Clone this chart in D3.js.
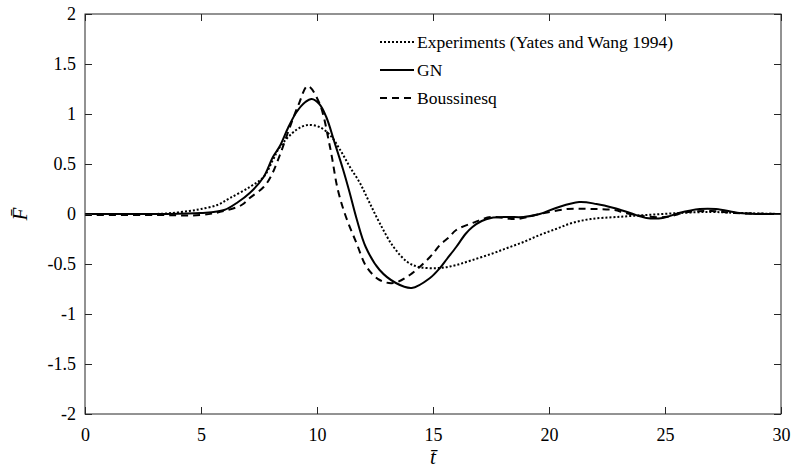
<!DOCTYPE html>
<html>
<head>
<meta charset="utf-8">
<script src="https://cdn.jsdelivr.net/npm/d3@7"></script>
<style>
  body { margin: 0; background: #fff; }
  svg { display: block; }
  text { font-family: "Liberation Serif", "Times New Roman", serif; fill: #000; }
</style>
</head>
<body>
<svg id="chart" width="793" height="472"></svg>
<script>
// Measured force, Yates and Wang (1994)
const expT = [0, 2, 3, 3.75, 4.5, 5, 5.7, 6.25, 7.1, 7.7, 8.1, 8.4, 9.1, 9.6, 10.1, 10.56, 11.0, 11.42, 11.85, 12.25, 12.7, 13.3, 13.9, 14.4, 15.3, 16.0, 16.7, 17.5, 18.2, 18.9, 19.6, 20.3, 21.0, 21.8, 22.9, 24.2, 25.6, 27.0, 28.2, 30];
const expF = [0, 0, 0, 0.01, 0.03, 0.05, 0.09, 0.16, 0.27, 0.37, 0.54, 0.67, 0.84, 0.89, 0.87, 0.79, 0.64, 0.47, 0.31, 0.12, -0.09, -0.33, -0.48, -0.53, -0.54, -0.51, -0.46, -0.40, -0.34, -0.28, -0.21, -0.15, -0.09, -0.05, -0.03, -0.01, 0.01, 0.02, 0.01, 0];

// Green-Naghdi model
const gnT = [0, 3, 5, 6, 6.6, 7.1, 7.7, 8.1, 8.4, 8.75, 9.12, 9.5, 9.77, 10.1, 10.4, 10.75, 11.13, 11.4, 11.71, 12.1, 12.7, 13.4, 14.08, 14.87, 15.3, 15.6, 16.0, 16.4, 16.7, 17.1, 17.5, 18.2, 18.9, 19.6, 20.3, 21.3, 22.05, 22.8, 23.5, 24.2, 24.9, 25.6, 26.5, 27.2, 28.2, 29, 30];
const gnF = [0, 0, 0.01, 0.04, 0.12, 0.21, 0.37, 0.57, 0.68, 0.86, 1.02, 1.12, 1.15, 1.10, 0.97, 0.72, 0.44, 0.22, -0.05, -0.33, -0.56, -0.69, -0.74, -0.64, -0.54, -0.45, -0.33, -0.20, -0.13, -0.07, -0.04, -0.03, -0.03, 0.0, 0.06, 0.12, 0.10, 0.06, 0.01, -0.04, -0.04, 0.01, 0.05, 0.05, 0.01, 0, 0];

// Boussinesq model
const bqT = [0, 3, 5, 6, 6.75, 7.1, 7.7, 8.0, 8.4, 8.8, 9.2, 9.6, 10.1, 10.56, 10.9, 11.25, 11.7, 12.14, 12.7, 13.3, 14.0, 14.87, 15.3, 15.7, 16.0, 16.7, 17.5, 18.6, 19.6, 20.8, 21.8, 22.8, 23.3, 24, 25, 26, 27, 28, 30];
const bqF = [-0.01, -0.01, -0.01, 0.03, 0.09, 0.16, 0.27, 0.37, 0.59, 0.85, 1.09, 1.28, 1.11, 0.67, 0.24, -0.03, -0.29, -0.53, -0.66, -0.69, -0.61, -0.43, -0.31, -0.23, -0.16, -0.09, -0.03, -0.05, 0.0, 0.05, 0.05, 0.04, 0.01, -0.02, -0.03, 0.02, 0.03, 0.01, 0];

const seriesNames = ["Experiments (Yates and Wang 1994)", "GN", "Boussinesq"];
const xTicks = [0, 5, 10, 15, 20, 25, 30];
const yTicks = [-2, -1.5, -1, -0.5, 0, 0.5, 1, 1.5, 2];
const xTickLabels = ["0", "5", "10", "15", "20", "25", "30"];
const yTickLabels = ["-2", "-1.5", "-1", "-0.5", "0", "0.5", "1", "1.5", "2"];

const plot = { left: 85, right: 781, top: 14, bottom: 414 };
const axisColor = "#262626";

const svg = d3.select("#chart");

const x = d3.scaleLinear().domain([0, 30]).range([plot.left, plot.right]);
const y = d3.scaleLinear().domain([-2, 2]).range([plot.bottom, plot.top]);

const series = [
  { name: seriesNames[0], t: expT, f: expF, dash: "2,2", width: 2 },
  { name: seriesNames[1], t: gnT, f: gnF, dash: null, width: 2 },
  { name: seriesNames[2], t: bqT, f: bqF, dash: "7,5", width: 2 }
];

// clip so curves stay inside the box
svg.append("clipPath").attr("id", "clip")
  .append("rect")
  .attr("x", plot.left).attr("y", plot.top)
  .attr("width", plot.right - plot.left).attr("height", plot.bottom - plot.top);

const line = d3.line()
  .x(d => x(d[0]))
  .y(d => y(d[1]))
  .curve(d3.curveCatmullRom.alpha(0.5));

const lines = svg.append("g").attr("clip-path", "url(#clip)");
series.forEach(s => {
  const pts = s.t.map((t, i) => [t, s.f[i]]);
  lines.append("path")
    .datum(pts)
    .attr("d", line)
    .attr("fill", "none")
    .attr("stroke", "#000")
    .attr("stroke-width", s.width)
    .attr("stroke-dasharray", s.dash)
    .attr("stroke-linejoin", "round");
});

// axes with inward ticks on all four sides
const tickLen = 7;
const fmtX = v => xTickLabels[xTicks.indexOf(v)];
const fmtY = v => yTickLabels[yTicks.indexOf(v)];

const gx = svg.append("g")
  .attr("transform", `translate(0,${plot.bottom})`)
  .call(d3.axisBottom(x).tickValues(xTicks).tickSize(-tickLen).tickPadding(14).tickFormat(fmtX));
const gxTop = svg.append("g")
  .attr("transform", `translate(0,${plot.top})`)
  .call(d3.axisTop(x).tickValues(xTicks).tickSize(-tickLen).tickFormat(""));
const gy = svg.append("g")
  .attr("transform", `translate(${plot.left},0)`)
  .call(d3.axisLeft(y).tickValues(yTicks).tickSize(-tickLen).tickPadding(9).tickFormat(fmtY));
const gyRight = svg.append("g")
  .attr("transform", `translate(${plot.right},0)`)
  .call(d3.axisRight(y).tickValues(yTicks).tickSize(-tickLen).tickFormat(""));

[gx, gxTop, gy, gyRight].forEach(g => {
  g.select(".domain").remove();
  g.attr("font-family", null).attr("font-size", null);
  g.selectAll(".tick line").attr("stroke", axisColor).attr("stroke-width", 1);
  g.selectAll(".tick text")
    .style("font-family", "'Liberation Serif', 'Times New Roman', serif")
    .style("font-size", "18px")
    .attr("fill", "#222");
});

// frame
svg.append("rect")
  .attr("x", plot.left).attr("y", plot.top)
  .attr("width", plot.right - plot.left).attr("height", plot.bottom - plot.top)
  .attr("fill", "none").attr("stroke", axisColor).attr("stroke-width", 1);

// axis titles
svg.append("text")
  .attr("x", (plot.left + plot.right) / 2)
  .attr("y", 464)
  .attr("text-anchor", "middle")
  .style("font-size", "21px")
  .style("font-style", "italic")
  .text("t\u0304");

svg.append("text")
  .attr("transform", `translate(27,${(plot.top + plot.bottom) / 2}) rotate(-90)`)
  .attr("text-anchor", "middle")
  .style("font-size", "21px")
  .style("font-style", "italic")
  .text("F\u0304");

// legend
const legend = svg.append("g").attr("transform", "translate(380,42)");
series.forEach((s, i) => {
  const row = legend.append("g").attr("transform", `translate(0,${i * 28})`);
  row.append("line")
    .attr("x1", 0).attr("x2", 34).attr("y1", 0).attr("y2", 0)
    .attr("stroke", "#000").attr("stroke-width", s.width)
    .attr("stroke-dasharray", s.dash);
  row.append("text")
    .attr("x", 37).attr("y", 6)
    .style("font-size", "17.5px")
    .text(s.name);
});
</script>
</body>
</html>
